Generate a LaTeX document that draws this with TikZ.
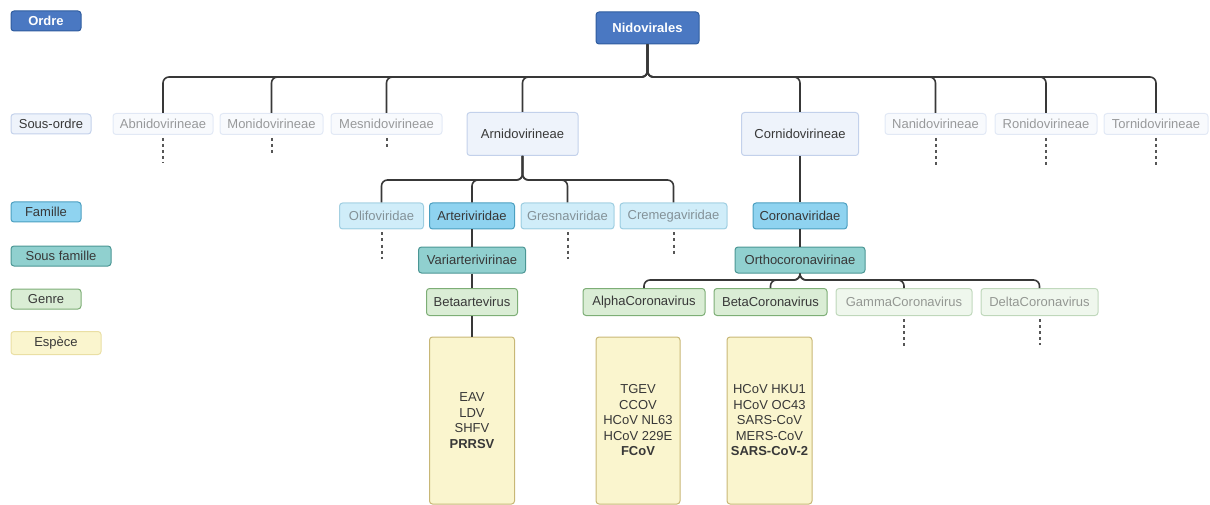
\documentclass[tikz,border=0pt]{standalone}
\usepackage{fontspec}
\setmainfont{Liberation Sans}
\definecolor{NidoBlue}{HTML}{4A78C2}
\definecolor{NidoBlueLine}{HTML}{2F5C9E}
\definecolor{NidoSub}{HTML}{EEF3FB}
\definecolor{NidoSubLine}{HTML}{C3D1EB}
\definecolor{NidoFam}{HTML}{8FD3F0}
\definecolor{NidoFamLine}{HTML}{4B9FC0}
\definecolor{NidoSF}{HTML}{90D0CF}
\definecolor{NidoSFLine}{HTML}{4B9694}
\definecolor{NidoGen}{HTML}{DAEDD5}
\definecolor{NidoGenLine}{HTML}{7DAE76}
\definecolor{NidoSp}{HTML}{FAF5CE}
\definecolor{NidoSpLine}{HTML}{C8B776}
\definecolor{NidoSpLight}{HTML}{EADFA4}
\definecolor{NidoInk}{HTML}{383838}
\usetikzlibrary{positioning}

\begin{document}
\begin{tikzpicture}[x=1pt,y=-1pt,
    box/.style={draw,rounded corners=3pt,line width=1pt,inner sep=0pt,align=center,
      font=\fontsize{13}{15.5}\selectfont,text=NidoInk},
    ordre/.style={box,fill=NidoBlue,draw=NidoBlueLine,text=white,
      font=\fontsize{13}{15.5}\selectfont\bfseries},
    sousordre/.style={box,fill=NidoSub,draw=NidoSubLine},
    famille/.style={box,fill=NidoFam,draw=NidoFamLine},
    sousfam/.style={box,fill=NidoSF,draw=NidoSFLine},
    genre/.style={box,fill=NidoGen,draw=NidoGenLine},
    espece/.style={box,fill=NidoSp,draw=NidoSpLine},
    fade/.style={fill opacity=0.42,draw opacity=0.45,text opacity=0.5},
    link/.style={draw=NidoInk,line width=1.6pt,rounded corners=6pt},
    stub/.style={draw=NidoInk!85,line width=2pt,dash pattern=on 3pt off 3pt}]
  \useasboundingbox (0,0) rectangle (1210,505);

  \node[ordre,minimum width=70pt,minimum height=20pt] (lgOrdre) at (46,21) {Ordre};
  \node[sousordre,minimum width=80pt,minimum height=20pt] (lgSousOrdre) at (51,124) {Sous-ordre};
  \node[famille,minimum width=70pt,minimum height=20pt] (lgFamille) at (46,212) {Famille};
  \node[sousfam,minimum width=100pt,minimum height=20pt] (lgSousFam) at (61,256) {Sous famille};
  \node[genre,minimum width=70pt,minimum height=20pt] (lgGenre) at (46,299) {Genre};
  \node[espece,draw=NidoSpLight,minimum width=90pt,minimum height=23pt] (lgEspece) at (56,343) {Espèce};

  \node[ordre,minimum width=103pt,minimum height=32pt] (nido) at (647.5,28) {Nidovirales};

  \foreach \nm/\x/\w/\lab/\len in {abni/163/100/Abnidovirineae/25,moni/271.5/103/Monidovirineae/16,
      mesni/386.5/111/Mesnidovirineae/10,nani/935.5/101/Nanidovirineae/28,
      roni/1046/102/Ronidovirineae/28,torni/1156/104/Tornidovirineae/27} {
    \node[sousordre,fade,minimum width=\w pt,minimum height=21pt] (\nm) at (\x,124) {\lab};
    \draw[link] (nido.south) -- (nido.south |- 0,77) -| (\nm.north);
    \draw[stub] ([yshift=-3pt]\nm.south) -- ++(0,\len);
  }
  \node[sousordre,minimum width=111pt,minimum height=43pt] (arni) at (522.5,134) {Arnidovirineae};
  \node[sousordre,minimum width=117pt,minimum height=43pt] (corni) at (800,134) {Cornidovirineae};
  \draw[link] (nido.south) -- (nido.south |- 0,77) -| (arni.north);
  \draw[link] (nido.south) -- (nido.south |- 0,77) -| (corni.north);

  \foreach \nm/\x/\w/\lab/\len in {olifo/381.5/84/Olifoviridae/26,gresna/567.5/93/Gresnaviridae/26,
      creme/673.5/107/Cremegaviridae/24} {
    \node[famille,fade,minimum width=\w pt,minimum height=26pt] (\nm) at (\x,216) {\lab};
    \draw[link] (arni.south) -- (arni.south |- 0,180) -| (\nm.north);
    \draw[stub] ([yshift=-3pt]\nm.south) -- ++(0,\len);
  }
  \node[famille,minimum width=85pt,minimum height=26pt] (arteri) at (472,216) {Arteriviridae};
  \draw[link] (arni.south) -- (arni.south |- 0,180) -| (arteri.north);
  \node[famille,minimum width=94pt,minimum height=26pt] (corona) at (800,216) {Coronaviridae};
  \draw[link] (corni) -- (corona);

  \node[sousfam,minimum width=107pt,minimum height=26pt] (variarteri) at (472,260) {Variarterivirinae};
  \node[sousfam,minimum width=130pt,minimum height=26pt] (ortho) at (800,260) {Orthocoronavirinae};
  \draw[link] (arteri) -- (variarteri);
  \draw[link] (corona) -- (ortho);

  \node[genre,minimum width=91pt,minimum height=27pt] (betaarte) at (472,302) {Betaartevirus};
  \draw[link] (variarteri) -- (betaarte);
  \node[genre,minimum width=122pt,minimum height=27pt] (alpha) at (644,302) {AlphaCoronavirus};
  \node[genre,minimum width=113pt,minimum height=27pt] (beta) at (770.5,302) {BetaCoronavirus};
  \foreach \nm in {alpha,beta}
    \draw[link] (ortho.south) -- (ortho.south |- 0,280) -| (\nm.north);
  \foreach \nm/\x/\w/\lab/\len in {gamma/904/136/GammaCoronavirus/28,delta/1039.5/117/DeltaCoronavirus/26} {
    \node[genre,fade,minimum width=\w pt,minimum height=27pt] (\nm) at (\x,302) {\lab};
    \draw[link] (ortho.south) -- (ortho.south |- 0,280) -| (\nm.north);
    \draw[stub] ([yshift=-3pt]\nm.south) -- ++(0,\len);
  }

  \node[espece,minimum width=85pt,minimum height=167pt] (spArte) at (472,420.5)
    {EAV\\LDV\\SHFV\\\textbf{PRRSV}};
  \draw[link] (betaarte) -- (spArte);
  \node[espece,minimum width=84pt,minimum height=167pt] (spAlpha) at (638,420.5)
    {TGEV\\CCOV\\HCoV NL63\\HCoV 229E\\\textbf{FCoV}};
  \node[espece,minimum width=85pt,minimum height=167pt] (spBeta) at (769.5,420.5)
    {HCoV HKU1\\HCoV OC43\\SARS-CoV\\MERS-CoV\\\textbf{SARS-CoV-2}};
\end{tikzpicture}
\end{document}
